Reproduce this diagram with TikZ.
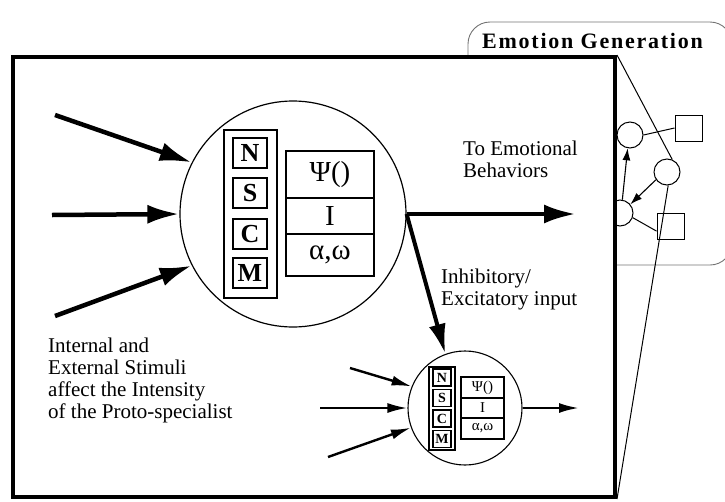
\documentclass[tikz,border=0pt]{standalone}
\usepackage{fontspec}
\setmainfont{Liberation Serif}
\usetikzlibrary{arrows.meta}

\begin{document}
\begin{tikzpicture}[x=1pt,y=-1pt,
  lbl/.style={align=left, inner sep=0pt, anchor=north west,
    font=\fontsize{21}{22}\selectfont},
  bigarrow/.style={line width=4.5pt, -{Latex[length=32pt,width=19pt]}},
  midarrow/.style={line width=4pt, -{Latex[length=30pt,width=17pt]}},
  smallarrow/.style={line width=2.4pt, -{Latex[length=20pt,width=10pt]}},
  netarrow/.style={line width=1.1pt, -{Latex[length=12pt,width=8pt]}},
  unit/.style={circle, draw, line width=1.2pt, inner sep=0pt},
  bigletter/.style={draw, line width=1.8pt, inner sep=0pt,
    minimum width=34pt, minimum height=30pt,
    font=\bfseries\fontsize{26}{26}\selectfont},
  bigcell/.style={draw, line width=1.4pt, inner sep=0pt, minimum width=88pt,
    font=\fontsize{29}{29}\selectfont},
  smallletter/.style={draw, line width=1.3pt, inner sep=0pt,
    minimum width=18pt, minimum height=17pt,
    font=\bfseries\fontsize{14}{14}\selectfont},
  smallcell/.style={draw, line width=1.1pt, inner sep=0pt, minimum width=43pt,
    font=\fontsize{15}{15}\selectfont},
  netcircle/.style={circle, draw, line width=1pt, fill=white,
    minimum size=26pt, inner sep=0pt},
  netsquare/.style={draw, line width=1pt, fill=white,
    minimum width=27pt, minimum height=26pt, inner sep=0pt},
]
\useasboundingbox (0,0) rectangle (725,501);

% emotion generation panel
\draw[black!55, line width=0.9pt, rounded corners=22pt] (468,22) rectangle (732,265);
\node[anchor=base west, inner sep=0pt,
  font=\bfseries\fontsize{22}{22}\selectfont\addfontfeature{LetterSpace=8}]
  (title) at (482,48) {Emotion Generation};

% small network of proto-specialists
\node[netcircle] (c1) at (630,135) {};
\node[netcircle] (c2) at (667,172) {};
\node[netcircle] (c3) at (620,213) {};
\node[netsquare] (s1) at (688.5,128) {};
\node[netsquare] (s2) at (670.5,226) {};
\draw[line width=1pt] (c1.east) -- (s1.west);
\draw[line width=1pt] (c3.-20) -- (s2.200);
\draw[netarrow] (c3.80) -- (c1.-100);
\draw[netarrow] (c2.215) -- (c3.40);

% magnified frame
\node[draw, line width=4pt, fill=white, inner sep=0pt,
  minimum width=602pt, minimum height=440pt] (frame) at (314,277) {};
\draw[line width=1pt] (frame.north east) -- (c2.67);
\draw[line width=1pt] (frame.south east) -- (c2.-85);

% large proto-specialist
\node[unit, minimum size=226pt] (big) at (293,214) {};
\node[draw, line width=1.3pt, inner sep=0pt, minimum width=53pt,
  minimum height=168pt] (bigcol) at (250.5,214) {};
\node[bigletter] (bN) at (250,153) {N};
\node[bigletter] (bS) at (250,193) {S};
\node[bigletter] (bC) at (250,234) {C};
\node[bigletter] (bM) at (250,273) {M};
\node[bigcell, minimum height=47pt] (bpsi) at (330,174.5) {Ψ()};
\node[bigcell, minimum height=36pt] (bI) at (330,216) {I};
\node[bigcell, minimum height=42pt] (baw) at (330,255) {α,ω};

% small proto-specialist
\node[unit, line width=1.1pt, minimum size=114pt] (small) at (465,408) {};
\node[draw, line width=1.1pt, inner sep=0pt, minimum width=26pt,
  minimum height=83pt] (smallcol) at (442,408.5) {};
\node[smallletter] (sN) at (442,377.5) {N};
\node[smallletter] (sS) at (442,398) {S};
\node[smallletter] (sC) at (442,418.5) {C};
\node[smallletter] (sM) at (442,439) {M};
\node[smallcell, minimum height=21pt] (spsi) at (482.5,387.5) {Ψ()};
\node[smallcell, minimum height=20pt] (sI) at (482.5,408) {I};
\node[smallcell, minimum height=21pt] (saw) at (482.5,428.5) {α,ω};

% stimuli into the large unit
\coordinate (in1) at (55,115);
\coordinate (in2) at (52,215);
\coordinate (in3) at (55,316);
\draw[bigarrow] (in1) -- (big.153);
\draw[bigarrow] (in2) -- (big.180);
\draw[bigarrow] (in3) -- (big.207);

% outputs of the large unit
\coordinate (out) at (576,214);
\draw[bigarrow] (big.east) -- (out);
\draw[midarrow] (big.east) -- (small.110);

% stimuli into and output of the small unit
\coordinate (sin1) at (350,368);
\coordinate (sin2) at (320,408);
\coordinate (sin3) at (328,457);
\coordinate (sout) at (579,408);
\draw[smallarrow] (sin1) -- (small.158);
\draw[smallarrow] (sin2) -- (small.180);
\draw[smallarrow] (sin3) -- (small.200);
\draw[smallarrow] (small.east) -- (sout);

% labels
\node[lbl] (tolbl) at (463,140.7) {To Emotional\\Behaviors};
\node[lbl] (inhlbl) at (441,268.5) {Inhibitory/\\Excitatory input};
\node[lbl] (stimlbl) at (48,337.7) {Internal and\\External Stimuli\\affect the Intensity\\of the Proto-specialist};
\end{tikzpicture}
\end{document}
